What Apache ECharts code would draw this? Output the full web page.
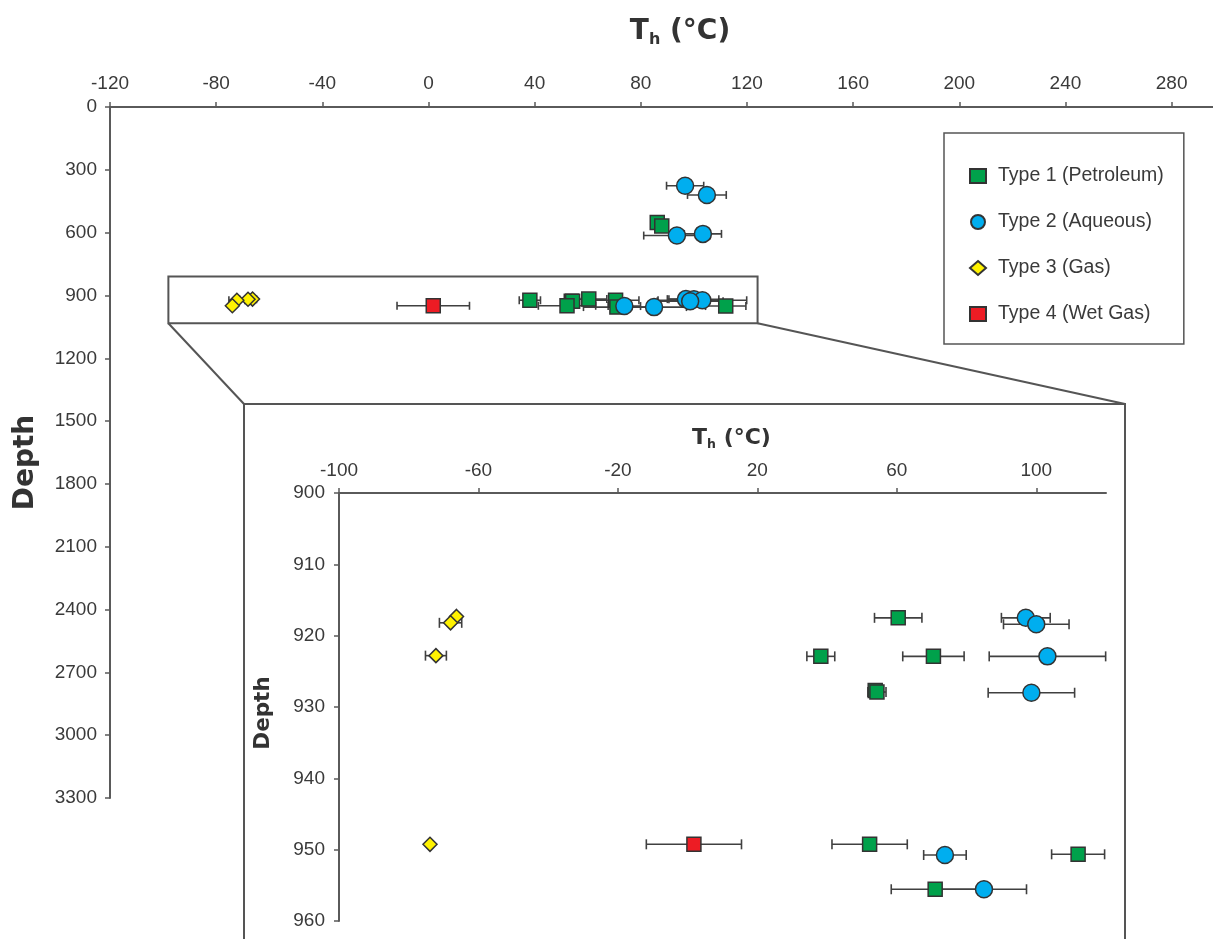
<!DOCTYPE html>
<html>
<head>
<meta charset="utf-8">
<script src="https://cdn.jsdelivr.net/npm/echarts@6/dist/echarts.min.js"></script>
<style>
html,body{margin:0;padding:0;background:#fff;}
#chart{width:1213px;height:939px;}
</style>
</head>
<body>
<div id="chart"></div>
<script>
// ---- data ----
const typeNames = ['Type 1 (Petroleum)', 'Type 2 (Aqueous)', 'Type 3 (Gas)', 'Type 4 (Wet Gas)'];

const t1Depth = [552, 568, 917.5, 922.9, 922.9, 927.7, 927.9, 949.25, 950.65, 955.55];
const t1Temp  = [86.2, 87.9, 60.4, 38.2, 70.5, 53.8, 54.3, 52.2, 112.0, 71.0];
const t1Err   = [0, 1.5, 6.8, 4.0, 8.8, 0, 2.6, 10.8, 7.6, 12.6];

const t2Depth = [376, 420, 606, 614, 917.5, 918.4, 922.9, 928, 950.75, 955.55];
const t2Temp  = [96.7, 104.9, 103.4, 93.6, 97.0, 100.0, 103.2, 98.6, 73.8, 85.0];
const t2Err   = [7, 7.3, 7, 12.5, 7, 9.4, 16.7, 12.4, 6.1, 12.2];

const t3Depth = [917.3, 918.2, 922.8, 949.25];
const t3Temp  = [-66.3, -68.0, -72.2, -73.9];
const t3Err   = [0, 3.2, 3.0, 0];

const t4Depth = [949.25];
const t4Temp  = [1.8];
const t4Err   = [13.65];

const mainTicksX  = [-120, -80, -40, 0, 40, 80, 120, 160, 200, 240, 280];
const mainTicksY  = [0, 300, 600, 900, 1200, 1500, 1800, 2100, 2400, 2700, 3000, 3300];
const insetTicksX = [-100, -60, -20, 20, 60, 100];
const insetTicksY = [900, 910, 920, 930, 940, 950, 960];

// ---- styling ----
const colors  = ['#00A14B', '#00AEEF', '#FFF200', '#ED1C24'];
const symbols = ['rect', 'circle', 'diamond', 'rect'];
const sizesMain  = [14, 17, 14, 14];
const sizesInset = [14, 17, 14, 14];
const FONT = "'Liberation Sans', Arial, Helvetica, sans-serif";
const TITLE_FONT = "'DejaVu Sans', 'Liberation Sans', sans-serif";
const AXIS_COLOR = '#5a5a5a';
const TEXT_COLOR = '#3a3a3a';

const types = [
  [t1Temp, t1Depth, t1Err],
  [t2Temp, t2Depth, t2Err],
  [t3Temp, t3Depth, t3Err],
  [t4Temp, t4Depth, t4Err]
];

function zip(t, d, e, lo, hi) {
  const out = [];
  for (let i = 0; i < t.length; i++) {
    if (d[i] >= lo && d[i] <= hi) out.push([t[i], d[i], e[i]]);
  }
  return out;
}

function makeErr(cap) {
  return function (params, api) {
    const t = api.value(0), d = api.value(1), e = api.value(2);
    if (!e) return { type: 'group', children: [] };
    const a = api.coord([t - e, d]);
    const b = api.coord([t + e, d]);
    const style = { stroke: '#404040', lineWidth: 1.6 };
    return {
      type: 'group',
      children: [
        { type: 'line', shape: { x1: a[0], y1: a[1], x2: b[0], y2: b[1] }, style: style },
        { type: 'line', shape: { x1: a[0], y1: a[1] - cap, x2: a[0], y2: a[1] + cap }, style: style },
        { type: 'line', shape: { x1: b[0], y1: b[1] - cap, x2: b[0], y2: b[1] + cap }, style: style }
      ]
    };
  };
}

function axisCommon(ticks, margin, labelPad) {
  return {
    type: 'value',
    axisLine: { show: true, onZero: false, lineStyle: { color: AXIS_COLOR, width: 2 } },
    axisTick: { show: true, inside: false, length: 5, customValues: ticks, lineStyle: { color: AXIS_COLOR, width: 1.5 } },
    axisLabel: {
      customValues: ticks, color: TEXT_COLOR, fontSize: 19, fontFamily: FONT, margin: margin,
      padding: labelPad || 0,
      formatter: function (v) { return String(v); }
    },
    splitLine: { show: false }
  };
}

const series = [];
[0, 1].forEach(function (g) {
  const lo = g === 0 ? 0 : 900, hi = g === 0 ? 3300 : 960;
  types.forEach(function (tp, k) {
    series.push({
      type: 'custom',
      name: 'err' + g + '_' + k,
      xAxisIndex: g, yAxisIndex: g,
      renderItem: makeErr(g === 0 ? 4 : 5),
      encode: { x: 0, y: 1 },
      data: zip(tp[0], tp[1], tp[2], lo, hi),
      z: 2,
      silent: true
    });
  });
  types.forEach(function (tp, k) {
    series.push({
      type: 'scatter',
      name: typeNames[k],
      xAxisIndex: g, yAxisIndex: g,
      symbol: symbols[k],
      symbolSize: (g === 0 ? sizesMain : sizesInset)[k],
      itemStyle: { color: colors[k], borderColor: '#333', borderWidth: 1.5, opacity: 1 },
      data: zip(tp[0], tp[1], tp[2], lo, hi).map(function (p) { return [p[0], p[1]]; }),
      z: 3
    });
  });
});

const titleRich = {
  a: { fontSize: 28, fontWeight: 'bold', fontFamily: TITLE_FONT, color: '#333', lineHeight: 32 },
  b: { fontSize: 16, fontWeight: 'bold', fontFamily: TITLE_FONT, color: '#333', lineHeight: 16, verticalAlign: 'bottom' }
};
const insetRich = {
  a: { fontSize: 22, fontWeight: 'bold', fontFamily: TITLE_FONT, color: '#333', lineHeight: 26 },
  b: { fontSize: 12.5, fontWeight: 'bold', fontFamily: TITLE_FONT, color: '#333', lineHeight: 12.5, verticalAlign: 'bottom' }
};

const option = {
  backgroundColor: '#fff',
  animation: false,
  grid: [
    { left: 110, top: 107, width: 1103, height: 691, outerBoundsMode: 'none', containLabel: false },
    { left: 339, top: 493, width: 767, height: 428, outerBoundsMode: 'none', containLabel: false }
  ],
  xAxis: [
    Object.assign(axisCommon(mainTicksX, 14), {
      gridIndex: 0, position: 'top', min: -120, max: 295.6,
      name: '{a|T}{b|h}{a| (°C)}', nameLocation: 'middle', nameGap: 59,
      nameTextStyle: { rich: titleRich, padding: [0, 0, 0, 37] }
    }),
    Object.assign(axisCommon(insetTicksX, 13), {
      gridIndex: 1, position: 'top', min: -100, max: 120,
      name: '{a|T}{b|h}{a| (°C)}', nameLocation: 'middle', nameGap: 42,
      nameTextStyle: { rich: insetRich, padding: [0, 0, 0, 18] }
    })
  ],
  yAxis: [
    Object.assign(axisCommon(mainTicksY, 13, [5, 0, 0, 0]), {
      gridIndex: 0, inverse: true, min: 0, max: 3300,
      name: 'Depth', nameLocation: 'middle', nameGap: 70, nameRotate: 90,
      nameTextStyle: { fontSize: 28, fontWeight: 'bold', fontFamily: TITLE_FONT, color: '#333', padding: [0, 20, 0, 0] }
    }),
    Object.assign(axisCommon(insetTicksY, 14, [4, 0, 0, 0]), {
      gridIndex: 1, inverse: true, min: 900, max: 960,
      name: 'Depth', nameLocation: 'middle', nameGap: 65, nameRotate: 90,
      nameTextStyle: { fontSize: 21.5, fontWeight: 'bold', fontFamily: TITLE_FONT, color: '#333', padding: [0, 12, 0, 0] }
    })
  ],
  legend: {
    data: typeNames,
    orient: 'vertical',
    left: 944, top: 133,
    selectedMode: false,
    borderColor: '#555', borderWidth: 1.5,
    padding: [32, 20, 19, 25],
    itemWidth: 16, itemHeight: 14, itemGap: 24,
    textStyle: { fontSize: 19.5, fontFamily: FONT, color: TEXT_COLOR, lineHeight: 22, padding: [0, 0, 0, 7] }
  },
  series: series
};

const chart = echarts.init(document.getElementById('chart'), null, { renderer: 'canvas' });
chart.setOption(option);

// zoom frame: box around the shallow cluster, linked to the inset frame
const boxT = [-98, 124], boxD = [810, 1033];
const p1 = chart.convertToPixel({ xAxisIndex: 0, yAxisIndex: 0 }, [boxT[0], boxD[0]]);
const p2 = chart.convertToPixel({ xAxisIndex: 0, yAxisIndex: 0 }, [boxT[1], boxD[1]]);
const insetL = 244, insetT = 404, insetR = 1125;
const lineStyle = { stroke: '#555', lineWidth: 2, fill: null };
chart.setOption({
  graphic: [
    { type: 'rect', shape: { x: p1[0], y: p1[1], width: p2[0] - p1[0], height: p2[1] - p1[1] }, style: lineStyle, z: 1, silent: true },
    { type: 'line', shape: { x1: p1[0], y1: p2[1], x2: insetL, y2: insetT }, style: lineStyle, silent: true },
    { type: 'line', shape: { x1: p2[0], y1: p2[1], x2: insetR, y2: insetT }, style: lineStyle, silent: true },
    { type: 'rect', shape: { x: insetL, y: insetT, width: insetR - insetL, height: 600 }, style: lineStyle, z: 0, silent: true }
  ]
});
</script>
</body>
</html>
